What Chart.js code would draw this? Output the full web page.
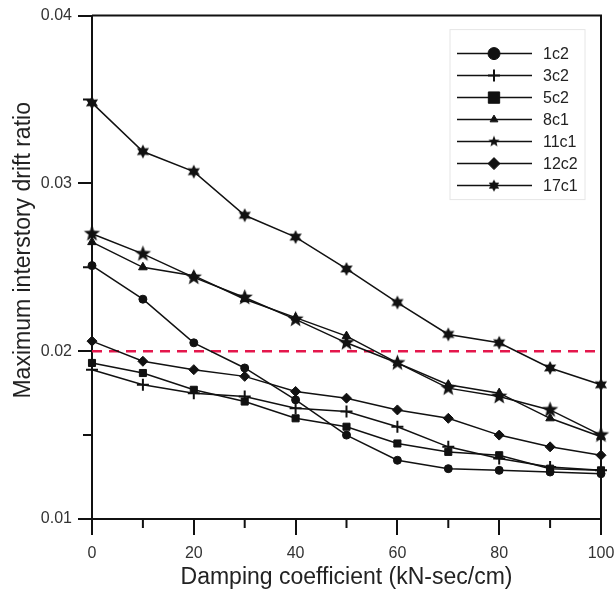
<!DOCTYPE html>
<html lang="en">
<head>
<meta charset="UTF-8">
<title>Maximum interstory drift ratio vs damping coefficient</title>
<script src="https://cdn.jsdelivr.net/npm/chart.js"></script>
<style>
  html, body { margin: 0; padding: 0; background: #fff; }
</style>
</head>
<body>
<canvas id="driftChart" width="614" height="594"></canvas>
<script>
// Damping coefficient (kN-sec/cm)
const damping = [0, 10, 20, 30, 40, 50, 60, 70, 80, 90, 100];

// Maximum interstory drift ratio per column
const col1c2  = [0.0251, 0.0231, 0.0205, 0.0190, 0.0171, 0.0150, 0.0135, 0.0130, 0.0129, 0.0128, 0.0127];
const col3c2  = [0.0189, 0.0180, 0.0175, 0.0173, 0.0166, 0.0164, 0.0155, 0.0143, 0.0136, 0.0131, 0.0129];
const col5c2  = [0.0193, 0.0187, 0.0177, 0.0170, 0.0160, 0.0155, 0.0145, 0.0140, 0.0138, 0.0130, 0.0129];
const col8c1  = [0.0265, 0.0250, 0.0245, 0.0231, 0.0220, 0.0209, 0.0193, 0.0180, 0.0175, 0.0160, 0.0149];
const col11c1 = [0.0270, 0.0258, 0.0244, 0.0232, 0.0219, 0.0205, 0.0193, 0.0178, 0.0173, 0.0165, 0.0150];
const col12c2 = [0.0206, 0.0194, 0.0189, 0.0185, 0.0176, 0.0172, 0.0165, 0.0160, 0.0150, 0.0143, 0.0138];
const col17c1 = [0.0348, 0.0319, 0.0307, 0.0281, 0.0268, 0.0249, 0.0229, 0.0210, 0.0205, 0.0190, 0.0180];

const driftLimit = 0.02;
const yRange = [0.01, 0.04];
const xRange = [0, 100];
const yTitle = 'Maximum interstory drift ratio';

const ink = '#111';
const font = '"Liberation Sans", Arial, sans-serif';

// filled star markers as small canvases
function starIcon(points, outer, inner) {
    const size = Math.ceil(outer * 2 + 2);
    const c = document.createElement('canvas');
    c.width = c.height = size;
    const g = c.getContext('2d');
    g.translate(size / 2, size / 2);
    g.beginPath();
    for (let i = 0; i < points * 2; i++) {
        const r = i % 2 ? inner : outer;
        const a = -Math.PI / 2 + i * Math.PI / points;
        g.lineTo(r * Math.cos(a), r * Math.sin(a));
    }
    g.closePath();
    g.fillStyle = ink;
    g.fill();
    return c;
}

function series(label, data, style, radius, legendStyle, legendRadius) {
    return {
        label, data: damping.map((d, i) => ({ x: d, y: data[i] })),
        borderColor: ink, backgroundColor: ink, borderWidth: 1.5,
        pointStyle: style, pointRadius: radius, pointBorderWidth: style === 'cross' ? 2 : 1,
        pointBackgroundColor: ink, pointBorderColor: ink,
        legendStyle: legendStyle || style, legendRadius: legendRadius || radius,
        clip: false, order: 1
    };
}

const datasets = [
    series('1c2', col1c2, 'circle', 4, null, 6),
    series('3c2', col3c2, 'cross', 6, null, 6),
    series('5c2', col5c2, 'rect', 5, null, 8),
    series('8c1', col8c1, 'triangle', 5, null, 4.5),
    series('11c1', col11c1, starIcon(5, 8.5, 3.6), 8, starIcon(5, 6, 2.6), 6),
    series('12c2', col12c2, 'rectRot', 5, null, 6),
    series('17c1', col17c1, starIcon(6, 7, 3.8), 6, starIcon(6, 6, 3.4), 6),
    {
        label: 'limit', data: [{ x: xRange[0], y: driftLimit }, { x: xRange[1], y: driftLimit }],
        borderColor: '#e4174c', borderWidth: 2.5, borderDash: [10, 7],
        pointRadius: 0, isLimit: true, order: 2
    }
];

// frame, minor ticks and the y title (sits a bit above centre in the original)
const frameTicks = {
    id: 'frameTicks',
    afterDraw(chart) {
        const { ctx, chartArea: a, scales: { x, y } } = chart;
        ctx.save();
        ctx.strokeStyle = ink;
        ctx.lineWidth = 2;
        ctx.beginPath();
        ctx.moveTo(a.left, a.top);
        ctx.lineTo(a.right, a.top);
        ctx.lineTo(a.right, a.bottom);
        x.ticks.forEach((t, i) => {
            if (!i) return;
            const px = x.getPixelForValue((t.value + x.ticks[i - 1].value) / 2);
            ctx.moveTo(px, a.bottom);
            ctx.lineTo(px, a.bottom + 9);
        });
        y.ticks.forEach((t, i) => {
            if (!i) return;
            const py = y.getPixelForValue((t.value + y.ticks[i - 1].value) / 2);
            ctx.moveTo(a.left, py);
            ctx.lineTo(a.left - 9, py);
        });
        ctx.stroke();

        ctx.translate(24, (a.top + a.bottom) / 2 - 17);
        ctx.rotate(-Math.PI / 2);
        ctx.font = '23px ' + font;
        ctx.fillStyle = '#222';
        ctx.textAlign = 'center';
        ctx.textBaseline = 'middle';
        ctx.fillText(yTitle, 0, 0);
        ctx.restore();
    }
};

// legend with line through marker
const lineLegend = {
    id: 'lineLegend',
    afterDraw(chart) {
        const { ctx, chartArea: a } = chart;
        const right = a.right - 16, top = a.top + 14, w = 135;
        const left = right - w;
        const items = chart.data.datasets.filter(d => !d.isLimit);
        ctx.save();
        ctx.strokeStyle = '#e6e6e6';
        ctx.lineWidth = 1;
        ctx.strokeRect(left, top, w, 24 + items.length * 22 - 8);
        ctx.font = '16px ' + font;
        ctx.textBaseline = 'middle';
        items.forEach((d, i) => {
            const yy = top + 24 + i * 22;
            ctx.strokeStyle = ink;
            ctx.fillStyle = ink;
            ctx.lineWidth = 1.5;
            ctx.beginPath();
            ctx.moveTo(left + 7, yy);
            ctx.lineTo(left + 82, yy);
            ctx.stroke();
            ctx.lineWidth = d.legendStyle === 'cross' ? 2 : 1;
            Chart.helpers.drawPoint(ctx, {
                pointStyle: d.legendStyle, radius: d.legendRadius, rotation: 0,
                borderWidth: ctx.lineWidth
            }, left + 44, yy);
            ctx.fillStyle = '#222';
            ctx.fillText(d.label, left + 93, yy + 1);
        });
        ctx.restore();
    }
};

new Chart(document.getElementById('driftChart').getContext('2d'), {
    type: 'line',
    data: { datasets },
    options: {
        responsive: false,
        animation: false,
        layout: { padding: { top: 14, right: 0, left: 0, bottom: 0 } },
        plugins: { legend: { display: false }, tooltip: { enabled: false } },
        scales: {
            x: {
                type: 'linear', min: xRange[0], max: xRange[1],
                afterFit: s => { s.height = 75; s.paddingRight = 13; },
                border: { color: ink, width: 2 },
                grid: { drawOnChartArea: false, color: ink, lineWidth: 2, tickLength: 16 },
                ticks: { stepSize: 20, color: '#333', padding: 9, font: { family: font, size: 16 } },
                title: {
                    display: true, text: 'Damping coefficient (kN-sec/cm)', color: '#222',
                    font: { family: font, size: 23 }, padding: { top: 0, bottom: 3 }
                }
            },
            y: {
                min: yRange[0], max: yRange[1],
                afterFit: s => { s.width = 92; },
                border: { color: ink, width: 2 },
                grid: { drawOnChartArea: false, color: ink, lineWidth: 2, tickLength: 14 },
                ticks: {
                    stepSize: 0.01, color: '#333', padding: 6,
                    font: { family: font, size: 16 },
                    callback: v => v.toFixed(2)
                }
            }
        }
    },
    plugins: [frameTicks, lineLegend]
});
</script>
</body>
</html>
